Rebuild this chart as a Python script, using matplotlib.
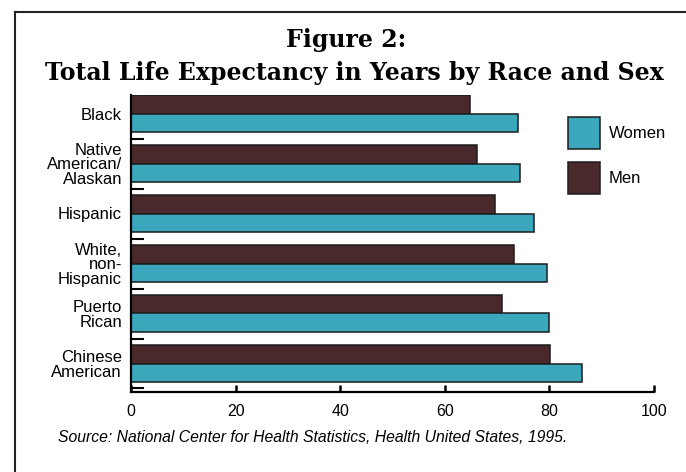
import matplotlib
matplotlib.use("Agg")
import matplotlib.pyplot as plt
from matplotlib.lines import Line2D
import numpy as np

categories = ["Black", "Native\nAmerican/\nAlaskan", "Hispanic", "White,\nnon-\nHispanic",
              "Puerto\nRican", "Chinese\nAmerican"]
men = [64.9, 66.2, 69.6, 73.3, 70.9, 80.1]
women = [74.0, 74.3, 77.1, 79.6, 79.9, 86.3]
xticks = [0, 20, 40, 60, 80, 100]

W, H = 686, 472
fig = plt.figure(figsize=(W / 100, H / 100), dpi=100)
fig.patch.set_facecolor("white")

def fx(px):
    return px / W

def fy(py):
    return 1 - py / H

ax = fig.add_axes([fx(131), fy(392), fx(654) - fx(131), fy(95) - fy(392)])

brown = "#4a292c"
cyan = "#3aa7bd"
edge = "#1c1c1c"
bh = 0.37
y = np.arange(len(categories))
bm = ax.barh(y - bh / 2, men, height=bh, color=brown, edgecolor=edge, linewidth=1.1, label="Men")
bw = ax.barh(y + bh / 2, women, height=bh, color=cyan, edgecolor=edge, linewidth=1.1, label="Women")

ax.set_xlim(0, 100)
ax.set_ylim(5.57, -0.37)
ax.set_xticks(xticks)
ax.set_xticklabels([str(t) for t in xticks], fontsize=11.5, family="Liberation Sans")
ax.tick_params(axis="x", direction="in", length=5, width=1.8, pad=9, color="black")

ax.set_yticks(y)
ax.set_yticklabels(categories, fontsize=12, family="Liberation Sans", linespacing=0.98)
ax.tick_params(axis="y", which="major", length=0, pad=6.5)
ax.set_yticks(y + 0.5, minor=True)
ax.tick_params(axis="y", which="minor", direction="in", length=9, width=1.5, color="black")

for s in ["top", "right"]:
    ax.spines[s].set_visible(False)
for s in ["left", "bottom"]:
    ax.spines[s].set_linewidth(1.6)

leg = ax.legend(handles=[bw, bm], labels=["Women", "Men"], loc="upper left",
                bbox_to_anchor=(fx(568), fy(117)), bbox_transform=fig.transFigure,
                frameon=False, borderpad=0, borderaxespad=0, handlelength=1.9,
                handleheight=2.6, labelspacing=0.75, handletextpad=0.55,
                prop={"family": "Liberation Sans", "size": 12})

fig.text(fx(346), fy(40), "Figure 2:", ha="center", va="center",
         fontsize=17, fontweight="bold", family="DejaVu Serif")
fig.text(fx(354), fy(73), "Total Life Expectancy in Years by Race and Sex", ha="center",
         va="center", fontsize=17, fontweight="bold", family="DejaVu Serif")

fig.text(fx(58), fy(437), "Source: National Center for Health Statistics, Health United States, 1995.",
         ha="left", va="center", fontsize=11.3, style="italic", family="Liberation Sans")

fig.add_artist(Line2D([fx(15), fx(15)], [0, fy(12)], transform=fig.transFigure,
                      color="#222222", linewidth=1.5))
fig.add_artist(Line2D([fx(15), 1.0], [fy(12), fy(12)], transform=fig.transFigure,
                      color="#222222", linewidth=1.5))

fig.savefig("out.png", dpi=100)
